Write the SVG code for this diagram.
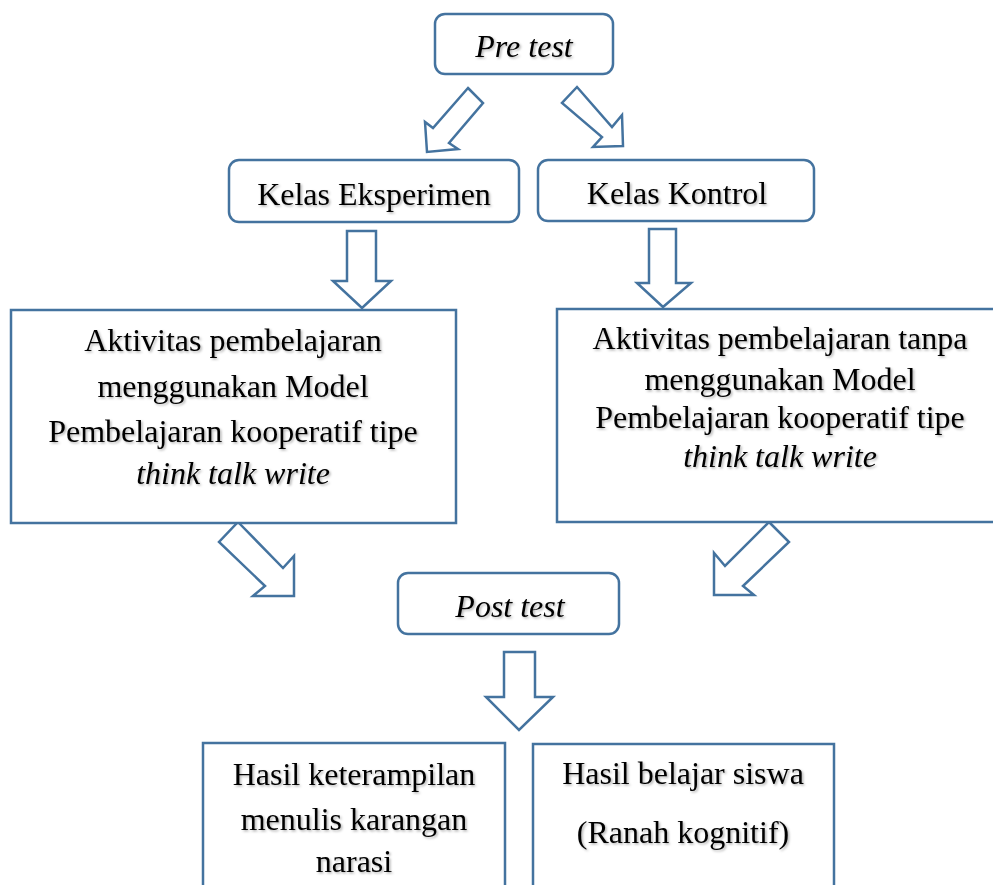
<svg xmlns="http://www.w3.org/2000/svg" width="993" height="885" viewBox="0 0 993 885">
  <style>
    .box { fill: #ffffff; stroke: #44739f; stroke-width: 2.5; }
    .arrow { fill: #ffffff; stroke: #44739f; stroke-width: 2.5; stroke-linejoin: miter; }
    .t { font-family: "Liberation Serif", "Times New Roman", serif; font-size: 32px; fill: #000000; text-anchor: middle; filter: url(#shadow); }
    .i { font-style: italic; }
  </style>
  <defs>
    <filter id="shadow" x="-10%" y="-30%" width="120%" height="160%">
      <feDropShadow dx="1.5" dy="1.5" stdDeviation="1" flood-color="#000000" flood-opacity="0.3"/>
    </filter>
  </defs>
  <rect width="993" height="885" fill="#ffffff"/>

  <g id="connectors">
    <polygon class="arrow" points="468,88 483,103 449,143 458,149 427,152 425,122 433,128"/>
    <polygon class="arrow" points="577,87 562,103 602,137 593,147 623,146 622,115 612,127"/>
    <polygon class="arrow" points="347,231 376,231 376,281 391,281 362,308 333,281 347,281"/>
    <polygon class="arrow" points="649,229 676,229 676,283 691,283 663,307 637,283 649,283"/>
    <polygon class="arrow" points="238,522 283,568 294,556 294,596 253,596 265,586 219,542"/>
    <polygon class="arrow" points="769,522 789,542 743,586 754,595 714,595 714,553 725,566"/>
    <polygon class="arrow" points="504,652 535,652 535,697 553,697 519,730 486,697 504,697"/>
  </g>

  <g id="pre-test">
    <rect class="box" x="435" y="14" width="178" height="60" rx="10"/>
    <text class="t i" x="524" y="57">Pre test</text>
  </g>

  <g id="kelas-eksperimen">
    <rect class="box" x="229" y="160" width="290" height="62" rx="10"/>
    <text class="t" x="374" y="205">Kelas Eksperimen</text>
  </g>

  <g id="kelas-kontrol">
    <rect class="box" x="538" y="160" width="276" height="61" rx="10"/>
    <text class="t" x="677" y="204">Kelas Kontrol</text>
  </g>

  <g id="aktivitas-eksperimen">
    <rect class="box" x="11" y="310" width="445" height="213"/>
    <text class="t" x="233" y="351">Aktivitas pembelajaran</text>
    <text class="t" x="233" y="397">menggunakan Model</text>
    <text class="t" x="233" y="442">Pembelajaran kooperatif tipe</text>
    <text class="t i" x="233" y="484">think talk write</text>
  </g>

  <g id="aktivitas-kontrol">
    <rect class="box" x="557" y="309" width="446" height="213"/>
    <text class="t" x="780" y="349">Aktivitas pembelajaran tanpa</text>
    <text class="t" x="780" y="390">menggunakan Model</text>
    <text class="t" x="780" y="428">Pembelajaran kooperatif tipe</text>
    <text class="t i" x="780" y="467">think talk write</text>
  </g>

  <g id="post-test">
    <rect class="box" x="398" y="573" width="221" height="61" rx="10"/>
    <text class="t i" x="510" y="617">Post test</text>
  </g>

  <g id="hasil-keterampilan">
    <rect class="box" x="203" y="743" width="302" height="160"/>
    <text class="t" x="354" y="785">Hasil keterampilan</text>
    <text class="t" x="354" y="830">menulis karangan</text>
    <text class="t" x="354" y="872">narasi</text>
  </g>

  <g id="hasil-belajar">
    <rect class="box" x="533" y="744" width="301" height="160"/>
    <text class="t" x="683" y="784">Hasil belajar siswa</text>
    <text class="t" x="683" y="843">(Ranah kognitif)</text>
  </g>
</svg>
